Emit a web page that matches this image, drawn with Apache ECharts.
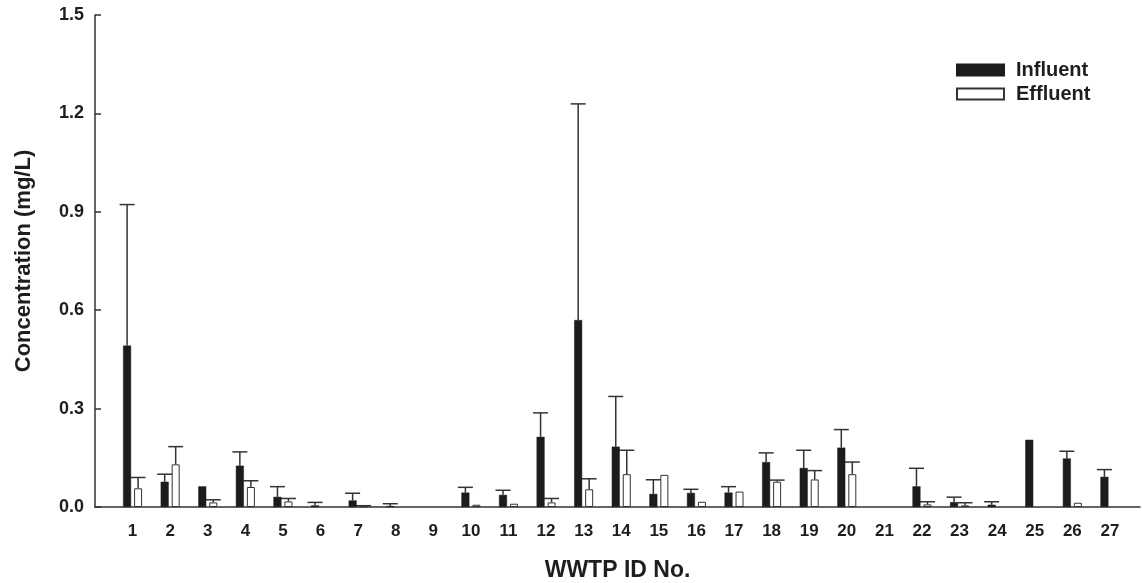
<!DOCTYPE html>
<html lang="en">
<head>
    <meta charset="UTF-8">
    <title>WWTP concentration</title>
    <script type="text/javascript" src="https://cdn.jsdelivr.net/npm/echarts@6/dist/echarts.min.js"></script>
    <style>
        html, body { margin: 0; padding: 0; background: #fff; }
        #chart { width: 1142px; height: 583px; }
    </style>
</head>
<body>
<div id="chart"></div>
<script>
    // WWTP ids
    var sites = [1, 2, 3, 4, 5, 6, 7, 8, 9, 10, 11, 12, 13, 14, 15, 16, 17, 18, 19, 20, 21, 22, 23, 24, 25, 26, 27];
    // mean concentrations (mg/L)
    var influent = [0.492, 0.077, 0.063, 0.126, 0.031, 0.005, 0.020, 0.003, null, 0.044, 0.037, 0.214, 0.570, 0.184,
        0.040, 0.043, 0.044, 0.137, 0.119, 0.181, null, 0.063, 0.015, 0.007, 0.205, 0.148, 0.092];
    var effluent = [0.057, 0.130, 0.014, 0.061, 0.017, null, 0.002, null, null, 0.007, 0.010, 0.014, 0.054, 0.100,
        0.098, 0.016, 0.047, 0.077, 0.084, 0.100, null, 0.008, 0.005, null, null, 0.013, null];
    // standard deviations (upper error bars)
    var influentSd = [0.430, 0.023, null, 0.042, 0.031, 0.009, 0.022, 0.007, null, 0.016, 0.014, 0.073, 0.659, 0.153,
        0.043, 0.011, 0.018, 0.028, 0.054, 0.055, null, 0.055, 0.015, 0.009, null, 0.022, 0.022];
    var effluentSd = [0.033, 0.054, 0.008, 0.019, 0.009, null, 0.002, null, null, null, null, 0.012, 0.032, 0.073,
        null, null, null, 0.005, 0.027, 0.037, null, 0.008, 0.008, null, null, null, null];
    var yTicks = [0.0, 0.3, 0.6, 0.9, 1.2, 1.5];

    var FONT = '"Liberation Sans", Arial, sans-serif';
    var INK = '#1e1e1e';

    function barData(vals) {
        return sites.map(function (s, i) { return [s, vals[i]]; });
    }
    function errData(vals, sds) {
        var out = [];
        sites.forEach(function (s, i) {
            if (vals[i] != null && sds[i] != null) out.push([s, vals[i], vals[i] + sds[i]]);
        });
        return out;
    }
    // error bar drawn with a fixed pixel shift so it sits over its bar
    function errRender(shift) {
        return function (params, api) {
            var lo = api.coord([api.value(0), api.value(1)]);
            var hi = api.coord([api.value(0), api.value(2)]);
            var x = lo[0] + shift;
            var st = {stroke: '#333', lineWidth: 1.5};
            return {
                type: 'group',
                children: [
                    {type: 'line', shape: {x1: x, y1: lo[1], x2: x, y2: hi[1]}, style: st},
                    {type: 'line', shape: {x1: x - 7.5, y1: hi[1], x2: x + 7.5, y2: hi[1]}, style: st}
                ]
            };
        };
    }

    var myChart = echarts.init(document.getElementById('chart'));
    var option = {
        backgroundColor: '#fff',
        animation: false,
        textStyle: {fontFamily: FONT},
        grid: {left: 95, right: 2, top: 15, bottom: 76, outerBoundsMode: 'none', containLabel: false},
        legend: {
            orient: 'vertical',
            left: 951,
            top: 55,
            itemWidth: 47,
            itemHeight: 11,
            itemGap: 4,
            icon: 'rect',
            data: ['Influent', 'Effluent'],
            textStyle: {fontFamily: FONT, fontWeight: 'bold', fontSize: 20, color: INK, padding: [0, 0, 0, 7]}
        },
        xAxis: {
            type: 'value',
            min: 0,
            max: 27.8,
            interval: 1,
            name: 'WWTP ID No.',
            nameLocation: 'middle',
            nameGap: 52,
            nameTextStyle: {fontFamily: FONT, fontWeight: 'bold', fontSize: 23, color: INK},
            splitLine: {show: false},
            axisTick: {show: false},
            axisLine: {show: true, onZero: false, lineStyle: {color: '#333', width: 1.5}},
            axisLabel: {
                margin: 16,
                fontFamily: FONT, fontWeight: 'bold', fontSize: 17, color: INK,
                formatter: function (v) { return sites.indexOf(v) >= 0 ? String(v) : ''; }
            }
        },
        yAxis: {
            type: 'value',
            min: 0,
            max: 1.5,
            interval: 0.3,
            name: 'Concentration (mg/L)',
            nameLocation: 'middle',
            nameGap: 60,
            nameTextStyle: {fontFamily: FONT, fontWeight: 'bold', fontSize: 22, color: INK},
            splitLine: {show: false},
            axisLine: {show: true, lineStyle: {color: '#333', width: 1.5}},
            axisTick: {show: true, inside: true, length: 6, lineStyle: {color: '#333', width: 1.5}},
            axisLabel: {
                margin: 11,
                fontFamily: FONT, fontWeight: 'bold', fontSize: 18, color: INK,
                formatter: function (v) {
                    var t = yTicks.filter(function (k) { return Math.abs(k - v) < 1e-6; });
                    return t.length ? t[0].toFixed(1) : '';
                }
            }
        },
        series: [
            {
                name: 'Influent',
                type: 'bar',
                barWidth: 8,
                barGap: '37.5%',
                itemStyle: {color: '#1c1c1c', borderColor: '#1c1c1c', borderWidth: 0.5},
                data: barData(influent)
            },
            {
                name: 'Effluent',
                type: 'bar',
                barWidth: 8,
                barGap: '37.5%',
                itemStyle: {color: '#fff', borderColor: '#333', borderWidth: 1},
                data: barData(effluent)
            },
            {
                type: 'custom',
                renderItem: errRender(-5.5),
                encode: {x: 0, y: [1, 2]},
                z: 1,
                silent: true,
                data: errData(influent, influentSd)
            },
            {
                type: 'custom',
                renderItem: errRender(5.5),
                encode: {x: 0, y: [1, 2]},
                z: 1,
                silent: true,
                data: errData(effluent, effluentSd)
            }
        ]
    };
    myChart.setOption(option);
</script>
</body>
</html>
